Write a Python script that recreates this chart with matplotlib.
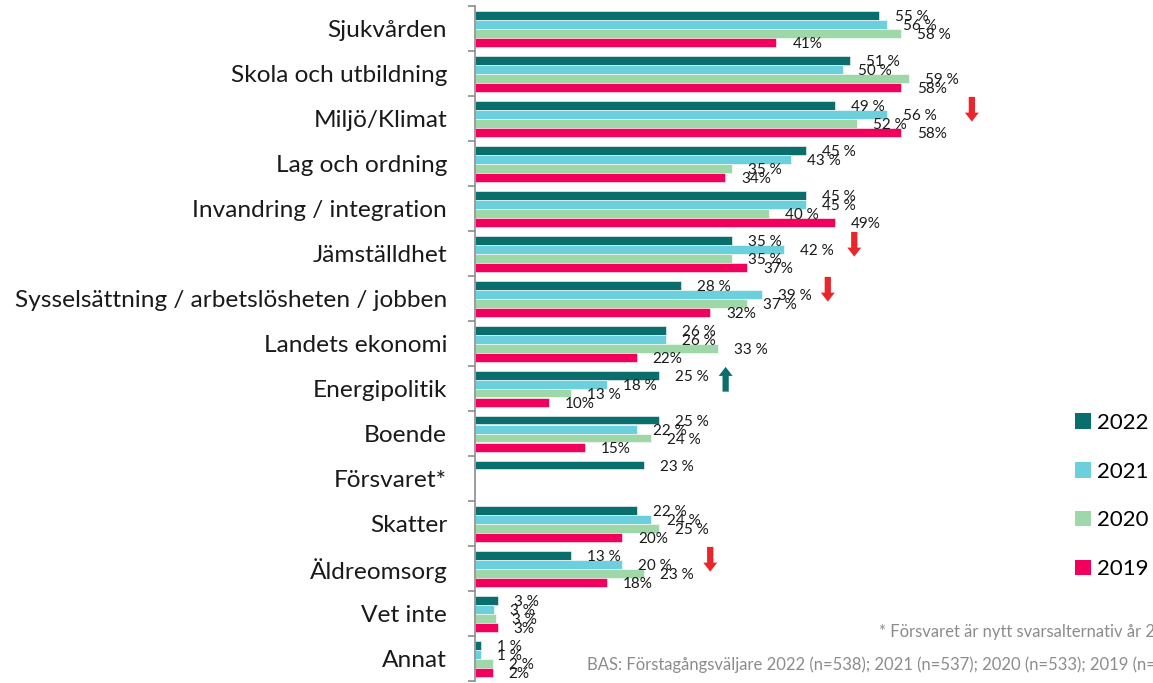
import numpy as np
import matplotlib
matplotlib.use("Agg")
from matplotlib import pyplot as plt
from matplotlib.patches import Patch

plt.rcParams['font.family'] = ['Lato', 'DejaVu Sans']

# data
categories = ['Sjukvården', 'Skola och utbildning', 'Miljö/Klimat', 'Lag och ordning',
              'Invandring / integration', 'Jämställdhet',
              'Sysselsättning / arbetslösheten / jobben', 'Landets ekonomi',
              'Energipolitik', 'Boende', 'Försvaret*', 'Skatter', 'Äldreomsorg',
              'Vet inte', 'Annat']
years = ['2022', '2021', '2020', '2019']
v2022 = [55, 51, 49, 45, 45, 35, 28, 26, 25, 25, 23, 22, 13, 3.1, 0.8]
v2021 = [56, 50, 56, 43, 45, 42, 39, 26, 18, 22, np.nan, 24, 20, 2.6, 0.8]
v2020 = [58, 59, 52, 35, 40, 35, 37, 33, 13, 24, np.nan, 25, 23, 2.9, 2.4]
v2019 = [41, 58, 58, 34, 49, 37, 32, 22, 10, 15, np.nan, 20, 18, 3.1, 2.4]
series = [v2022, v2021, v2020, v2019]
colors = ['#0a6f6c', '#6bd0dc', '#9fd8a8', '#f1005c']

# trend arrows: (category, x position in %, direction)
arrows = [('Miljö/Klimat', 67.6, 'down'), ('Jämställdhet', 51.6, 'down'),
          ('Sysselsättning / arbetslösheten / jobben', 48, 'down'),
          ('Energipolitik', 34.1, 'up'), ('Äldreomsorg', 32, 'down')]

W, H = 1153, 683
fig = plt.figure(figsize=(W / 100, H / 100), dpi=100)
ax = fig.add_axes([475 / W, 1 - 681 / H, 514.5 / W, 675 / H])

y = np.arange(len(categories))
bar_h = 0.2
offsets = [-0.3, -0.1, 0.1, 0.3]
for vals, col, off, yr in zip(series, colors, offsets, years):
    vals = np.array(vals, dtype=float)
    ok = ~np.isnan(vals)
    ax.barh(y[ok] + off, vals[ok], height=bar_h, color=col,
            edgecolor='white', linewidth=0.4)
    for yi, v in zip(y[ok], vals[ok]):
        txt = f"{v:.0f}%" if yr == '2019' else f"{v:.0f} %"
        ax.annotate(txt, (v, yi + off), xytext=(11.5, -1.5),
                    textcoords='offset points', ha='left', va='center',
                    fontsize=11, color='#1a1a1a', annotation_clip=False)

for cat, xa, d in arrows:
    i = categories.index(cat)
    top, bot = i - 0.48, i + 0.07
    if d == 'down':
        start, end, col = top, bot, '#e8262b'
    else:
        start, end, col = bot, top, '#0a6f6c'
    ax.annotate('', xy=(xa, end), xytext=(xa, start),
                arrowprops=dict(arrowstyle='simple,head_length=0.65,head_width=1.0,tail_width=0.45',
                                mutation_scale=10, color=col, lw=0,
                                shrinkA=0, shrinkB=0),
                annotation_clip=False)

ax.set_xlim(0, 70)
ax.set_ylim(len(categories) - 0.5, -0.5)
ax.set_yticks(y)
ax.set_yticklabels(categories, fontsize=17.6, color='#1a1a1a')
ax.tick_params(axis='y', which='major', length=0, pad=20)
ax.set_yticks(np.arange(len(categories) + 1) - 0.5, minor=True)
ax.tick_params(axis='y', which='minor', length=5, color='#8c8c8c', width=1.2)
ax.set_xticks([])
for s in ['top', 'right', 'bottom']:
    ax.spines[s].set_visible(False)
ax.spines['left'].set_color('#8c8c8c')
ax.spines['left'].set_linewidth(1.2)

handles = [Patch(facecolor=c) for c in colors]
fig.legend(handles, years, loc='center left', bbox_to_anchor=(1075 / W, 1 - 496 / H),
           frameon=False, fontsize=16, handlelength=0.7, handleheight=0.7,
           handletextpad=0.3, labelspacing=1.3, borderpad=0, borderaxespad=0)

fig.text(879 / W, 1 - 632 / H, '* Försvaret är nytt svarsalternativ år 2022',
         fontsize=12, color='#8c8c8c', va='center')
fig.text(587 / W, 1 - 665 / H,
         'BAS: Förstagångsväljare 2022 (n=538); 2021 (n=537); 2020 (n=533); 2019 (n=532)',
         fontsize=12, color='#8c8c8c', va='center')

fig.savefig('out.png', dpi=100)
